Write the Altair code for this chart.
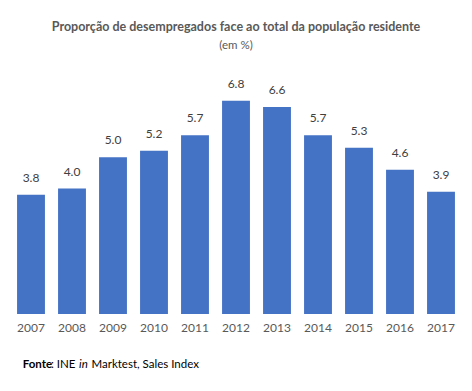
import altair as alt
import pandas as pd

years = ["2007", "2008", "2009", "2010", "2011", "2012", "2013", "2014", "2015", "2016", "2017"]
values = [3.8, 4.0, 5.0, 5.2, 5.7, 6.8, 6.6, 5.7, 5.3, 4.6, 3.9]

df = pd.DataFrame({"ano": years, "valor": values})
FONT = "Lato"

base = alt.Chart(df).encode(
    x=alt.X("ano:N", sort=years, title=None,
            scale=alt.Scale(paddingInner=0.32, paddingOuter=0.16),
            axis=alt.Axis(domain=False, ticks=False, labelAngle=0, labelPadding=8,
                          labelFont=FONT, labelFontSize=12, labelColor="#595959")),
    y=alt.Y("valor:Q", scale=alt.Scale(domain=[0, 8]), axis=None, title=None),
)

bars = base.mark_bar(color="#4472C4")
labels = base.mark_text(dy=-10, font=FONT, fontSize=12, color="#404040", baseline="bottom").encode(
    text=alt.Text("valor:Q", format=".1f")
)

src_parts = [
    ("Fonte", 22.7, "bold", "normal"),
    (": INE", 51, "normal", "normal"),
    ("in", 79, "normal", "italic"),
    ("Marktest, Sales Index", 91.5, "normal", "normal"),
]
src_layers = []
for txt, xp, fw, fs in src_parts:
    src_layers.append(
        alt.Chart(pd.DataFrame({"t": [txt]})).mark_text(
            align="left", baseline="middle", font=FONT, fontSize=11.5, color="#000000",
            fontWeight=fw, fontStyle=fs
        ).encode(text="t:N", x=alt.value(xp - 10.5), y=alt.value(365 - 63))
    )

chart = alt.layer(bars, labels, *src_layers).properties(
    width=451, height=251,
    autosize=alt.AutoSizeParams(type="none"),
    padding={"left": 2.5, "top": 55, "right": 2.5, "bottom": 60},
    title=alt.TitleParams(
        text="Proporção de desempregados face ao total da população residente",
        subtitle="(em %)",
        font=FONT, fontSize=12.5, fontWeight="bold", color="#595959",
        subtitleFont=FONT, subtitleFontSize=11.5, subtitleColor="#595959",
        subtitlePadding=6, anchor="middle", offset=12,
    ),
).configure_view(stroke=None)

chart.save("out.html", embed_options={"renderer": "svg", "actions": False})
